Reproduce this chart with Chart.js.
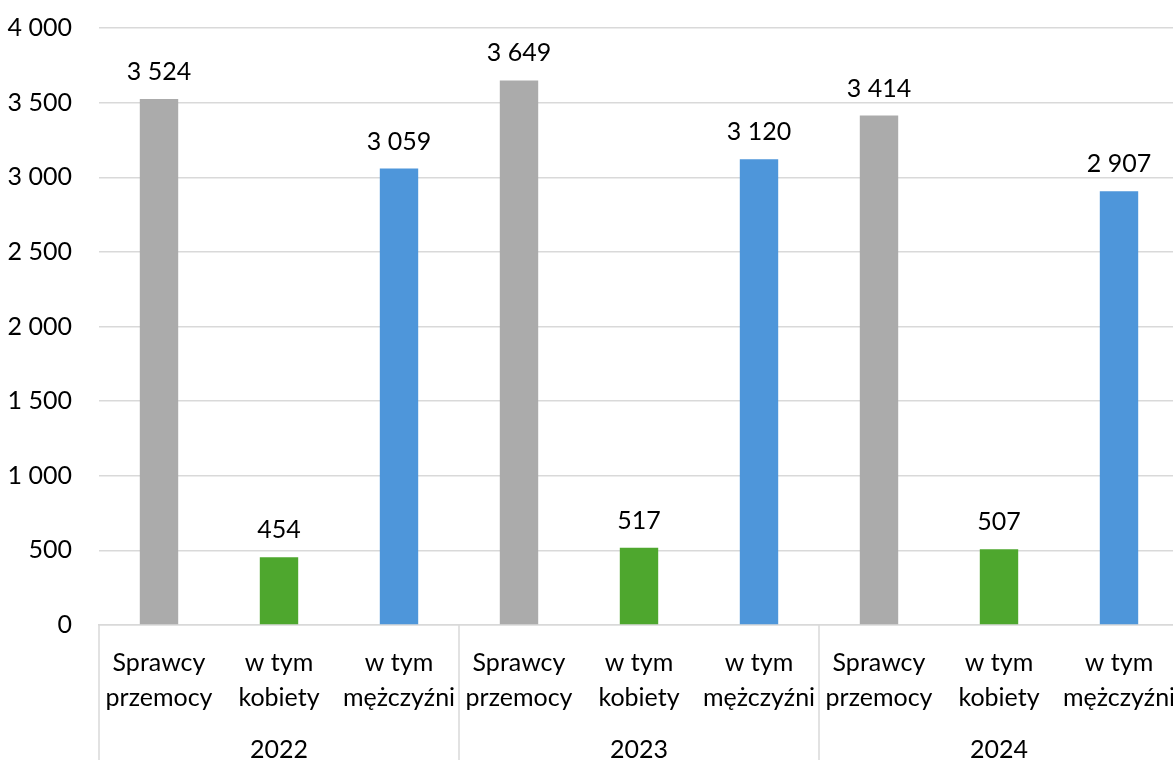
<!DOCTYPE html>
<html>
<head>
<meta charset="utf-8">
<script src="https://cdn.jsdelivr.net/npm/chart.js@4"></script>
<style>
  html, body { margin: 0; padding: 0; background: #fff; overflow: hidden; }
  #wrap { width: 1179px; height: 760px; }
</style>
</head>
<body>
<div id="wrap"><canvas id="chart" width="1179" height="760"></canvas></div>
<script>
// dane z wykresu
const categories = [
    ['Sprawcy', 'przemocy'], ['w tym', 'kobiety'], ['w tym', 'mężczyźni'],
    ['Sprawcy', 'przemocy'], ['w tym', 'kobiety'], ['w tym', 'mężczyźni'],
    ['Sprawcy', 'przemocy'], ['w tym', 'kobiety'], ['w tym', 'mężczyźni']
];
const years = ['2022', '2023', '2024'];
const values = [3524, 454, 3059, 3649, 517, 3120, 3414, 507, 2907];
const yTicks = [0, 500, 1000, 1500, 2000, 2500, 3000, 3500, 4000];

const COLORS = ['#ababab', '#4ea72e', '#4e96da'];
const FONT = { family: 'Lato, "Open Sans", sans-serif', size: 25 };
const GRID = '#d9d9d9';

const fmt = v => String(v).replace(/\B(?=(\d{3})+(?!\d))/g, ' ');

// etykiety wartości nad słupkami
const valueLabels = {
    id: 'valueLabels',
    afterDatasetsDraw(chart) {
        const ctx = chart.ctx;
        const meta = chart.getDatasetMeta(0);
        ctx.save();
        ctx.font = `${FONT.size}px ${FONT.family}`;
        ctx.fillStyle = '#000';
        ctx.textAlign = 'center';
        ctx.textBaseline = 'middle';
        meta.data.forEach((bar, i) => {
            ctx.fillText(fmt(values[i]), bar.x, bar.y - 27);
        });
        ctx.restore();
    }
};

// pionowe linie rozdzielające grupy lat pod osią
const groupLines = {
    id: 'groupLines',
    afterDraw(chart) {
        const x = chart.scales.x;
        const ctx = chart.ctx;
        const per = categories.length / years.length;
        const xs = [x.left];
        for (let g = 1; g < years.length; g++) {
            xs.push((x.getPixelForValue(g * per - 1) + x.getPixelForValue(g * per)) / 2);
        }
        xs.push(x.right);
        ctx.save();
        ctx.strokeStyle = GRID;
        ctx.lineWidth = 1.5;
        xs.forEach(px => {
            ctx.beginPath();
            ctx.moveTo(px, chart.chartArea.bottom);
            ctx.lineTo(px, chart.height);
            ctx.stroke();
        });
        ctx.restore();
    }
};

new Chart(document.getElementById('chart'), {
    type: 'bar',
    data: {
        labels: categories,
        datasets: [{
            data: values,
            backgroundColor: values.map((v, i) => COLORS[i % 3]),
            categoryPercentage: 1,
            barPercentage: 0.32
        }]
    },
    options: {
        responsive: false,
        animation: false,
        devicePixelRatio: 1,
        layout: { padding: { top: 28, left: 0, right: 0, bottom: 0 } },
        plugins: { legend: { display: false }, tooltip: { enabled: false } },
        scales: {
            y: {
                min: 0,
                max: 4000,
                afterBuildTicks: s => { s.ticks = yTicks.map(v => ({ value: v })); },
                afterFit: s => { s.width = 99; s.paddingTop = 0; s.paddingBottom = 0; },
                grid: { color: GRID, lineWidth: 1.5, drawTicks: false },
                border: { display: false },
                ticks: { color: '#000', font: FONT, padding: 27, callback: v => fmt(v) }
            },
            x: {
                afterFit: s => { s.height = 95; s.paddingLeft = 0; s.paddingRight = 0; },
                grid: { display: false },
                border: { display: true, color: GRID, width: 1.5 },
                ticks: { color: '#000', font: { ...FONT, lineHeight: 1.4 }, padding: 12, maxRotation: 0, autoSkip: false }
            },
            x2: {
                type: 'category',
                position: 'bottom',
                labels: years,
                offset: true,
                afterFit: s => { s.height = 40; s.paddingLeft = 0; s.paddingRight = 0; },
                grid: { display: false },
                border: { display: false },
                ticks: { color: '#000', font: FONT, padding: 7 }
            }
        }
    },
    plugins: [valueLabels, groupLines]
});
</script>
</body>
</html>
